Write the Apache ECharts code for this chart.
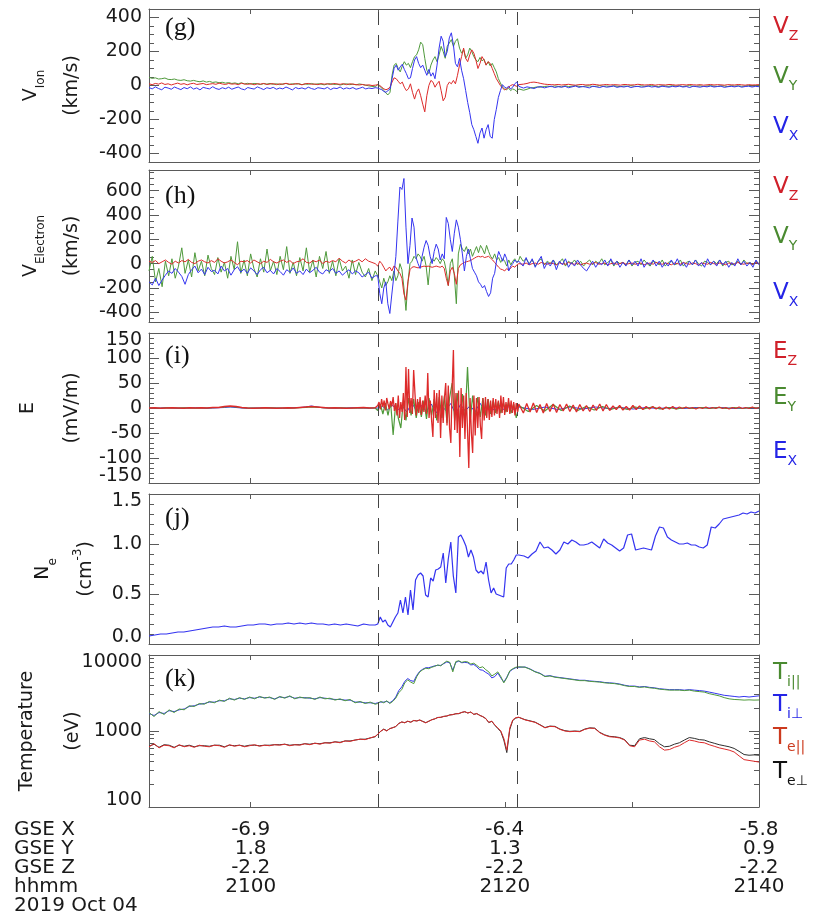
<!DOCTYPE html>
<html>
<head>
<meta charset="utf-8">
<script src="https://cdn.jsdelivr.net/npm/echarts@6/dist/echarts.min.js"></script>
<style>
html,body{margin:0;padding:0;background:#fff}
#chart{width:821px;height:918px}
</style>
</head>
<body>
<div id="chart"></div>
<script>
// Time axis: minutes after 21:00 UT, 2019 Oct 04
const T_START = -8, T_END = 40;
const eventTimes = [10.0, 20.95];
const timeTicks = [0, 10, 20, 30];
const timeLabelVals = [0, 20, 40];
const hhmmLabels = ['2100', '2120', '2140'];
const gseXLabels = ['-6.9', '-6.4', '-5.8'];
const gseYLabels = ['1.8', '1.3', '0.9'];
const gseZLabels = ['-2.2', '-2.2', '-2.2'];

// Each quantity is stored in three stretches: before, across and after the crossing
const SPAN_PRE = [-8, 9.8], SPAN_ACT = [10, 21.1], SPAN_POST = [21.2, 40];

// (g) ion bulk velocity, km/s
const ionVxPre = [-12,-20,-8,-18,-25,-10,-15,-22,-9,-17,-24,-12,-19,-8,-21,-14,-26,-11,-16,-20,-7,-18,-23,-13,-19,-10,-22,-15,-9,-20,-25,-12,-17,-21,-8,-16,-24,-13,-18,-11,-22,-15,-20,-9,-17,-26,-12,-19,-14,-21,-10,-18,-23,-13,-16,-20,-11,-24,-15,-18,-9,-21,-14,-19,-12,-22,-17,-10,-20,-15,-18,-13];
const ionVxAct = [-15,-20,-25,-35,-40,-30,-20,40,100,120,90,110,125,95,70,40,45,100,150,170,130,105,120,90,60,95,55,75,40,120,220,290,260,170,200,280,310,240,130,110,160,90,40,-30,-100,-160,-230,-260,-300,-340,-280,-250,-310,-260,-230,-300,-310,-200,-140,-70,-30,5,-10,-15,-5,-20,-10,10,20,-5];
const ionVxPost = [-5,-15,-8,-12,-18,-10,-6,-14,-9,-4,-12,-7,-10,-5,-13,-8,-3,-11,-6,-9,-14,-4,-8,-12,-5,-10,-7,-3,-11,-6,-9,-4,-12,-7,-5,-10,-8,-3,-9,-6,-11,-4,-7,-10,-5,-8,-3,-9,-6,-12,-4,-7,-10,-5,-8,-3,-9,-6,-4,-11,-7,-5,-8,-3,-10,-6,-4,-9,-5,-7];
const ionVyPre = [48,42,45,38,40,44,36,35,38,32,30,34,28,26,30,25,22,27,20,24,18,21,16,19,14,17,12,15,10,16,9,13,8,12,10,6,11,8,12,7,10,5,9,12,6,10,8,11,5,9,7,12,6,10,8,4,9,11,6,8,3,7,10,5,8,4,9,6,2,-2,-5,-8];
const ionVyAct = [5,-5,-15,-30,-45,-55,-40,60,120,130,100,80,115,140,120,130,105,140,170,180,210,255,240,160,90,70,120,150,170,140,180,230,200,160,230,250,270,230,260,275,220,190,210,160,180,220,200,170,150,140,165,145,155,120,140,115,130,105,80,40,15,-10,-20,-25,-15,-30,-20,-25,-35,-20];
const ionVyPost = [-20,-28,-22,-15,-12,-8,-10,-6,-4,-7,-3,-5,-8,-2,-6,-4,-1,-5,-7,-3,-2,-6,-4,-1,-5,-3,-6,-2,-4,-7,-3,-5,-1,-4,-6,-2,-5,-3,-1,-4,-6,-2,-3,-5,-1,-4,-2,-6,-3,-1,-5,-4,-2,-6,-3,-1,-4,-5,-2,-3,-6,-1,-4,-2,-5,-3,-1,-4,-2,-3];
const ionVzPre = [10,5,12,8,15,6,10,3,9,14,7,11,4,10,13,6,9,12,5,8,11,7,14,9,6,12,8,10,5,13,9,7,11,4,10,8,12,6,9,11,5,10,7,13,8,6,11,9,4,10,12,7,9,5,11,8,10,6,12,9,7,11,5,10,8,5,3,6,2,4,0,2];
const ionVzAct = [5,0,-10,-20,-25,-20,-10,20,45,40,25,10,20,-10,-30,-20,10,-40,-80,-40,-20,-60,-110,-155,-60,0,30,20,-10,10,25,-30,-90,-70,0,20,10,30,10,60,120,170,220,160,140,180,210,190,150,100,130,170,150,120,140,130,100,70,40,20,0,-15,-25,-20,-10,0,5,0,-5,5];
const ionVzPost = [5,8,12,18,20,17,12,8,6,5,4,6,3,5,7,4,2,5,6,3,4,7,5,2,4,6,3,5,4,2,6,5,3,4,7,5,3,4,6,2,5,4,3,6,5,2,4,5,3,6,4,3,5,2,4,6,3,5,4,2,5,4,3,6,4,2,5,3,4,5];

// (h) electron bulk velocity, km/s
const eleVxPre = [-150,-175,-120,-180,-135,-95,-60,-80,-40,-70,-105,-170,-90,-50,-20,-75,-45,-90,-30,-65,-55,-85,-20,-60,-40,-95,-50,-25,-70,-45,-80,-35,-60,-90,-50,-30,-75,-55,-85,-40,-65,-95,-50,-70,-35,-80,-60,-90,-45,-75,-55,-30,-70,-85,-50,-65,-40,-80,-60,-95,-70,-50,-85,-60,-75,-110,-90,-70,-120,-100];
const eleVxAct = [-100,-245,-330,-200,-150,-330,-410,-250,-100,60,350,630,610,700,300,0,150,375,300,50,0,-40,60,135,190,150,60,0,100,160,120,30,80,40,380,330,200,100,250,360,300,200,80,-60,60,120,40,-40,-70,-100,-150,-170,-200,-180,-230,-270,-240,-120,-80,30,100,60,20,80,40,-60,-20,0,30,10,20];
const eleVxPost = [30,-20,50,-10,40,-30,20,60,-40,10,-20,30,-50,20,-10,40,-30,10,-20,30,-10,-40,-60,-20,20,-30,10,-10,30,-20,40,-10,20,-30,10,-20,30,-10,20,-20,40,-30,10,-10,30,-20,20,-30,10,-20,30,-10,40,-20,10,-30,20,-10,30,-20,10,-30,40,-10,20,-20,30,-10,20,-30,10,-20,40,-10,20,-20,10,-30,30,-10];
const eleVyPre = [-60,60,-150,-40,-190,20,-100,40,-120,-20,130,-80,30,-110,90,-60,20,-100,70,-40,-90,50,-70,10,-120,60,-50,180,-80,30,-100,80,-40,-110,40,-70,120,-60,20,-90,60,-50,140,-80,10,-100,50,-60,130,-70,30,-110,60,-40,100,-80,20,-100,40,-60,-20,-120,30,-90,10,-70,-110,-40,-140,-60];
const eleVyAct = [-100,-150,-200,-120,-180,-150,-100,-140,-60,-140,-100,0,-50,-200,-385,-150,0,20,60,40,80,60,20,60,-20,-175,0,40,20,50,30,0,40,20,-60,-180,0,40,-100,-330,80,160,120,100,140,80,120,60,100,140,90,150,120,80,150,100,60,40,80,30,50,10,40,20,-20,30,-10,20,40,10,30];
const eleVyPost = [60,20,40,0,30,-20,20,40,-10,20,0,30,-10,10,40,-20,20,0,30,-10,20,-20,10,30,-10,20,0,40,-10,10,30,-20,20,0,10,-10,30,-20,10,20,-10,30,0,-20,20,10,-10,30,-20,10,20,-10,0,30,-20,10,20,-10,30,0,-20,20,10,-10,20,0,30,-20,10,20,-10,0,20,-10,30,0,10,-10,20,0];
const eleVzPre = [20,10,25,0,15,30,10,-5,20,5,25,15,35,10,0,20,30,15,5,25,10,40,20,5,15,30,10,-10,20,15,25,5,30,15,0,20,10,35,15,5,20,30,10,25,0,15,20,40,10,5,25,15,30,0,20,10,25,15,45,20,5,30,10,20,35,15,40,20,10,0];
const eleVzAct = [-20,20,0,-30,-60,-40,-30,-60,-20,-30,-60,-80,-120,-250,-300,-150,-50,-30,-25,-30,-35,-30,-25,-20,-25,-20,-25,-30,-25,-20,-25,-30,-20,-40,-120,-180,-60,-30,-80,-170,-40,-10,0,10,15,20,25,35,45,55,60,55,60,50,55,60,45,30,10,-10,-30,-45,-50,-60,-40,-55,-35,-20,-30,-10,0];
const eleVzPost = [0,-5,5,-10,0,5,-5,10,0,-5,5,0,-10,5,0,-5,10,0,-5,5,-10,0,5,-5,0,10,-5,0,5,-10,0,5,-5,0,10,-5,0,5,-5,0,5,-10,0,5,-5,10,0,-5,5,0,-10,5,0,-5,10,0,-5,5,0,-10,5,0,-5,10,0,-5,5,0,-10,5,0,-5,10,0,-5,5,0,-5,10,0];

// (i) electric field, mV/m
const exPre = [0,-0.5,0,0.5,0,-0.5,0,0,0.5,0,-0.5,0,0.5,1,2,1,0,-0.5,0,0,0.5,0,0,-0.5,0,0.5,1,2,4,2,0.5,0,-0.5,0,0,0.5,0,0,-0.5,0];
const exAct = [0,3,-4,6,-5,4,-8,10,-6,5,-7,8,-10,6,-5,9,-12,7,-6,5,-8,10,-6,4,-5,6,-4,3,-3,2];
const exPost = [3,-3,2,-3,2,-2,2,-1,1,-2,1,-1,1,-1,1,0,1,-1,0,0];
const eyPre = [0,0,-0.5,0.5,0,0,0.5,0,-0.5,0,0,0.5,1,2,3,2,0.5,0,0,-0.5,0,0.5,0,0,-0.5,0,0.5,1,2,1.5,0.5,0,0,0.5,0,-0.5,0,0.5,0,0];
const eyAct = [-5,8,-12,10,-15,12,-54,10,-20,-40,15,-25,20,-15,18,-20,12,-18,15,-22,20,-15,18,-25,22,-20,25,-30,20,50,-25,30,-35,28,-30,82,-28,25,-20,22,-18,20,-15,18,-12,15,-10,12,-10,10,-8,12,-10,8,-20,5];
const eyPost = [6,-7,5,-6,7,-5,4,-5,3,-4,3,-3,2,-3,2,-2,2,-2,1,-2,1,-1,1,-1,1,-1,1,-1,1,0];
const ezPre = [0,0.5,-0.5,0,0.5,0,-0.5,0.5,0,0.5,0,1,1,3,4,3,1,0,-0.5,0,0.5,0,-0.5,0,0.5,0,1,2,3,2,1,0,0.5,0,-0.5,0,0.5,1,0,0.5];
const ezAct = [5,12,-3,18,2,15,-5,20,8,-2,14,3,22,-6,10,-15,25,-20,12,-8,30,-24,82,-18,78,-10,20,-12,76,30,-15,18,-10,22,-14,15,-8,25,-12,70,-20,15,-25,-58,36,-20,30,-30,36,-60,25,-30,20,50,-35,45,-40,-70,40,116,-44,30,-50,35,-98,40,-40,25,-62,30,-45,-120,20,-50,-90,25,-55,20,-40,22,-35,-62,20,-25,22,-20,18,-24,15,-18,20,-15,18,-12,15,-20,25,-10,22,-14,12,-8,20,-12,15,-10,12,-15,10,-8,8];
const ezPost = [8,-10,9,-8,10,-9,7,-10,9,-7,8,-9,7,-6,8,-7,6,-8,7,-6,5,-7,6,-5,8,-6,7,-5,4,-3,5,-4,3,-4,5,-3,4,-3,3,-2,3,-2,2,-3,2,-2,3,-2,2,-1,2,-1,1,-2,1,-1,2,-1,1,-1,2,-1,1,-2,1,-1,2,-1,1,-1,2,-1,1];

// (j) electron density, cm^-3
const nePre = [0.08,0.09,0.10,0.10,0.11,0.12,0.12,0.13,0.14,0.15,0.16,0.17,0.17,0.18,0.17,0.17,0.18,0.19,0.19,0.20,0.20,0.19,0.20,0.20,0.21,0.20,0.21,0.20,0.21,0.20,0.20,0.19,0.20,0.19,0.20,0.19,0.18,0.20,0.19,0.19];
const neAct = [0.20,0.27,0.22,0.24,0.19,0.17,0.22,0.27,0.31,0.44,0.31,0.47,0.29,0.54,0.34,0.64,0.69,0.71,0.68,0.49,0.47,0.66,0.63,0.74,0.75,0.77,0.91,0.61,0.85,1.02,0.68,0.51,1.07,1.09,1.04,0.98,0.87,0.94,0.87,0.74,0.71,0.73,0.70,0.82,0.64,0.51,0.56,0.50,0.49,0.48,0.47,0.76,0.80,0.80,0.84,0.89,0.89];
const nePost = [0.89,0.88,0.86,0.90,0.93,1.02,0.96,0.97,0.94,0.90,0.94,1.02,1.00,1.04,1.02,0.99,0.99,1.00,1.02,0.99,0.96,1.05,1.01,0.99,0.96,0.93,0.96,1.09,1.10,0.94,0.95,0.96,0.95,0.94,1.08,1.17,1.16,1.07,1.04,1.02,1.00,1.00,1.01,0.99,0.99,0.97,0.96,0.99,1.17,1.16,1.20,1.25,1.26,1.27,1.28,1.29,1.31,1.30,1.32,1.31,1.33];

// (k) ion and electron temperatures, eV
const tiParPre = [1750,1550,1800,1650,1900,1750,1950,1900,2150,2100,2300,2250,2450,2350,2550,2450,2700,2550,2750,2600,2800,2650,2850,2700,2800,2600,2850,2700,2900,2650,2800,2700,2750,2600,2800,2650,2700,2550,2650,2500,2600,2350,2450,2300,2400,2250];
const tiParAct = [2300,2450,2350,2500,2300,2450,2700,3200,3500,4300,4700,4400,4200,5200,6000,6400,6700,6600,6900,7100,7400,7200,7800,8300,8000,6000,8200,8400,8000,8200,8100,7600,7800,7300,6800,7000,6400,6000,5300,5600,6000,5200,4300,5000,6200,6600,6900,7000];
const tiParPost = [7000,6900,6500,6000,5700,5200,5300,5100,5000,4900,4800,4700,4600,4600,4500,4450,4400,4300,4250,4200,4100,3950,3850,3850,3750,3800,3700,3650,3550,3500,3450,3450,3450,3400,3450,3350,3300,3250,3100,3000,2900,2750,2650,2600,2580,2550,2570,2550,2560];
const tiPerpPre = [1700,1600,1750,1700,1850,1800,1900,1950,2100,2150,2250,2300,2400,2400,2500,2500,2650,2600,2700,2650,2750,2700,2800,2750,2750,2650,2800,2750,2850,2700,2750,2750,2700,2650,2750,2700,2650,2600,2600,2550,2550,2400,2400,2350,2350,2300];
const tiPerpAct = [2350,2400,2400,2450,2350,2500,2800,3400,3800,4500,4900,4600,4500,5400,6100,6500,6800,6800,7000,7200,7300,7300,7700,8100,7900,6300,8000,8300,7900,8000,7900,7400,7500,7000,6400,6300,5900,5600,5000,5200,5800,5000,4400,5100,6100,6500,6800,6900];
const tiPerpPost = [7050,6950,6550,6050,5750,5250,5350,5150,5050,4950,4850,4750,4650,4650,4550,4500,4450,4350,4300,4250,4150,4000,3900,3900,3800,3850,3750,3700,3600,3550,3500,3500,3500,3450,3500,3450,3400,3350,3250,3150,3050,2950,2900,2850,2800,2850,2800,2850,2900];
const teParPre = [620,680,600,650,640,600,660,620,640,610,650,630,620,650,640,610,660,630,650,620,640,660,630,650,640,660,650,670,640,660,650,680,660,690,670,700,690,720,700,740,730,760,780,770,810,850];
const teParAct = [900,1000,1050,1000,1080,1100,1150,1250,1320,1280,1350,1300,1380,1350,1400,1330,1280,1350,1400,1450,1500,1520,1550,1580,1620,1650,1680,1700,1750,1800,1720,1780,1650,1700,1600,1550,1450,1300,1350,1200,1100,1000,800,560,1100,1400,1500,1520];
const teParPost = [1520,1400,1350,1300,1200,1100,1150,1140,1050,1000,980,990,980,1050,1090,1080,950,880,840,830,810,760,640,620,760,780,740,720,620,560,570,610,640,700,760,740,710,700,660,630,600,580,560,530,470,420,410,400,390];
const tePerpPre = [630,670,610,660,650,610,650,630,650,620,640,640,630,650,650,620,650,640,650,630,650,650,640,650,650,660,660,670,650,660,660,680,670,690,680,700,700,720,710,740,740,760,780,780,810,840];
const tePerpAct = [910,990,1060,1010,1070,1110,1140,1260,1310,1290,1340,1310,1370,1360,1390,1340,1290,1340,1410,1440,1510,1510,1560,1570,1630,1640,1690,1690,1760,1790,1730,1770,1660,1690,1610,1540,1460,1290,1340,1190,1080,980,760,520,1050,1380,1480,1510];
const tePerpPost = [1530,1410,1360,1310,1210,1110,1160,1150,1060,1010,990,1000,990,1060,1100,1090,960,890,850,840,820,770,650,640,790,820,790,770,680,620,630,670,700,760,820,800,770,760,720,690,660,640,620,590,540,490,480,485,480];

// ---------- helpers ----------
function stretch(span, vals) {
  const n = vals.length;
  return vals.map((v, i) => [span[0] + (span[1] - span[0]) * i / (n - 1), v]);
}
function track(pre, act, post) {
  return stretch(SPAN_PRE, pre).concat(stretch(SPAN_ACT, act), stretch(SPAN_POST, post));
}
function tickGrid(min, max, step, skip) {
  const out = [];
  for (let k = Math.ceil(min / step - 1e-9); k * step <= max + 1e-9; k++) {
    const v = Math.round(k * step * 1000) / 1000;
    if (!skip.some(s => Math.abs(s - v) < 1e-9)) out.push(v);
  }
  return out;
}

// ---------- layout ----------
const LEFT = 149, PLOT_W = 610;
const PANELS = [
  { top: 9, height: 153 },
  { top: 170, height: 152 },
  { top: 333, height: 150 },
  { top: 494, height: 150 },
  { top: 655, height: 152 }
];
const BOX = '#5a5a5a';
const INK = '#1a1a1a';
const FONT = 'DejaVu Sans';
const RED = '#dd2a2a', GREEN = '#4f9a3c', BLUE = '#3434f0', DARK = '#2e2e2e';
const RED_L = '#d0202a', GREEN_L = '#4a8a30', BLUE_L = '#2424e6', ORANGE_L = '#cc3a1e';

const gMajor = [-400, -200, 0, 200, 400];
const hMajor = [-400, -200, 0, 200, 400, 600];
const iMajor = [-150, -100, -50, 0, 50, 100, 150];
const jMajor = [0, 0.5, 1.0, 1.5];
const kMajor = [100, 1000, 10000];
const kMinor = [200, 300, 400, 500, 600, 700, 800, 900, 2000, 3000, 4000, 5000, 6000, 7000, 8000, 9000];

// labels: main set on the framed axis; inner set (if any) on a second axis so crowded labels all stay visible
const yCfg = [
  { type: 'value', min: -450, max: 450, major: gMajor, labels: gMajor, inner: [], minor: tickGrid(-450, 450, 50, gMajor), fmt: v => String(v) },
  { type: 'value', min: -480, max: 770, major: hMajor, labels: hMajor, inner: [], minor: tickGrid(-480, 770, 50, hMajor), fmt: v => String(v) },
  { type: 'value', min: -150, max: 150, major: iMajor, labels: [-150, -50, 0, 50, 150], inner: [-100, 100], minor: tickGrid(-150, 150, 10, iMajor), fmt: v => String(v), edge: true },
  { type: 'value', min: 0, max: 1.5, major: jMajor, labels: jMajor, inner: [], minor: tickGrid(0, 1.5, 0.1, jMajor), fmt: v => v.toFixed(1), edge: true },
  { type: 'log', min: 100, max: 10000, major: kMajor, labels: kMajor, inner: [], minor: kMinor, fmt: v => String(v), edge: true }
];

const grids = [], xAxes = [], yAxes = [];
PANELS.forEach((p, gi) => {
  grids.push({ left: LEFT, width: PLOT_W, top: p.top, height: p.height, containLabel: false });
  const xBase = {
    gridIndex: gi, type: 'value', min: T_START, max: T_END,
    splitLine: { show: false },
    axisLine: { show: true, onZero: false, lineStyle: { color: BOX, width: 1 } },
    axisTick: { show: true, inside: true, length: 5, customValues: timeTicks, lineStyle: { color: BOX } }
  };
  const isLast = gi === PANELS.length - 1;
  xAxes.push(Object.assign({}, xBase, {
    position: 'bottom',
    axisLabel: isLast ? {
      show: true, customValues: timeLabelVals, margin: 13, interval: 0,
      fontFamily: FONT, fontSize: 20, lineHeight: 19, color: INK,
      showMinLabel: true, showMaxLabel: true,
      formatter: v => {
        const i = timeLabelVals.indexOf(v);
        return i < 0 ? '' : [gseXLabels[i], gseYLabels[i], gseZLabels[i], hhmmLabels[i]].join('\n');
      }
    } : { show: false }
  }));
  xAxes.push(Object.assign({}, xBase, { position: 'top', axisLabel: { show: false } }));

  const c = yCfg[gi];
  const yBase = {
    gridIndex: gi, type: c.type, min: c.min, max: c.max,
    splitLine: { show: false },
    axisLine: { show: true, onZero: false, lineStyle: { color: BOX, width: 1 } }
  };
  if (c.type === 'log') yBase.logBase = 10;
  const labelStyle = {
    show: true, formatter: c.fmt, margin: 7, interval: 0, hideOverlap: false,
    fontFamily: FONT, fontSize: 19, lineHeight: 14, color: INK, showMinLabel: true, showMaxLabel: true
  };
  const lbl = Object.assign({}, labelStyle, { customValues: c.labels });
  if (c.edge) { lbl.verticalAlignMaxLabel = 'top'; lbl.verticalAlignMinLabel = 'bottom'; }
  const innerLbl = c.inner.length ? Object.assign({}, labelStyle, { customValues: c.inner }) : { show: false };
  yAxes.push(Object.assign({}, yBase, {
    position: 'left',
    axisTick: { show: true, inside: true, length: 10, customValues: c.major, lineStyle: { color: BOX } },
    axisLabel: lbl
  }));
  yAxes.push(Object.assign({}, yBase, {
    position: 'right',
    axisTick: { show: true, inside: true, length: 10, customValues: c.major, lineStyle: { color: BOX } },
    axisLabel: { show: false }
  }));
  yAxes.push(Object.assign({}, yBase, {
    position: 'left', axisLine: { show: false, onZero: false },
    axisTick: { show: true, inside: true, length: 5, customValues: c.minor, lineStyle: { color: BOX } },
    axisLabel: innerLbl
  }));
  yAxes.push(Object.assign({}, yBase, {
    position: 'right', axisLine: { show: false, onZero: false },
    axisTick: { show: true, inside: true, length: 5, customValues: c.minor, lineStyle: { color: BOX } },
    axisLabel: { show: false }
  }));
});

// full-height layer carrying the two event markers
grids.push({ left: LEFT, width: PLOT_W, top: PANELS[0].top, height: PANELS[4].top + PANELS[4].height - PANELS[0].top });
xAxes.push({ gridIndex: 5, type: 'value', min: T_START, max: T_END, show: false });
yAxes.push({ gridIndex: 5, type: 'value', min: 0, max: 1, show: false });

function line(gi, data, color, z, width) {
  return {
    type: 'line', xAxisIndex: gi * 2, yAxisIndex: gi * 4, data,
    showSymbol: false, symbol: 'none', silent: true, animation: false, z: z,
    lineStyle: { color, width: width || 1 }, itemStyle: { color }
  };
}

const series = [
  line(0, track(ionVyPre, ionVyAct, ionVyPost), GREEN, 3),
  line(0, track(ionVzPre, ionVzAct, ionVzPost), RED, 4),
  line(0, track(ionVxPre, ionVxAct, ionVxPost), BLUE, 5),
  line(1, track(eleVyPre, eleVyAct, eleVyPost), GREEN, 3),
  line(1, track(eleVzPre, eleVzAct, eleVzPost), RED, 4),
  line(1, track(eleVxPre, eleVxAct, eleVxPost), BLUE, 5),
  line(2, track(exPre, exAct, exPost), BLUE, 3),
  line(2, track(eyPre, eyAct, eyPost), GREEN, 4, 1.2),
  line(2, track(ezPre, ezAct, ezPost), RED, 5, 1.3),
  line(3, track(nePre, neAct, nePost), BLUE, 3, 1.2),
  line(4, track(tiPerpPre, tiPerpAct, tiPerpPost), BLUE, 3),
  line(4, track(tiParPre, tiParAct, tiParPost), GREEN, 4),
  line(4, track(tePerpPre, tePerpAct, tePerpPost), DARK, 5),
  line(4, track(teParPre, teParAct, teParPost), RED, 6),
  {
    type: 'line', xAxisIndex: 10, yAxisIndex: 20, data: [], symbol: 'none', silent: true, z: 1, animation: false,
    markLine: {
      silent: true, symbol: ['none', 'none'], label: { show: false }, animation: false,
      lineStyle: { color: '#444', width: 1, type: [13, 10] },
      data: eventTimes.map(t => ({ xAxis: t }))
    }
  }
];

// ---------- texts around the panels ----------
const graphic = [];
const titleRich = {
  m: { fontFamily: FONT, fontSize: 19, fill: INK, padding: [0, 0, 6, 0], verticalAlign: 'bottom' },
  s: { fontFamily: FONT, fontSize: 12, fill: INK, verticalAlign: 'bottom' },
  u: { fontFamily: FONT, fontSize: 19, fill: INK },
  q: { fontFamily: FONT, fontSize: 19, fill: INK, padding: [5, 0, 0, 0], verticalAlign: 'bottom' },
  p: { fontFamily: FONT, fontSize: 12, fill: INK, verticalAlign: 'top' }
};
const titles = [
  [[34, '{m|V}{s|Ion}'], [72, '{u|(km/s)}']],
  [[34, '{m|V}{s|Electron}'], [72, '{u|(km/s)}']],
  [[28, '{u|E}'], [72, '{u|(mV/m)}']],
  [[46, '{m|N}{s|e}'], [84, '{q|(cm}{p|-3}{q|)}']],
  [[27, '{u|Temperature}'], [73, '{u|(eV)}']]
];
titles.forEach((pair, gi) => {
  const yc = PANELS[gi].top + PANELS[gi].height / 2;
  pair.forEach(([x, txt]) => {
    graphic.push({
      type: 'text', x: x, y: yc, rotation: Math.PI / 2, silent: true,
      style: { text: txt, rich: titleRich, align: 'center', verticalAlign: 'middle' }
    });
  });
});

const panelTags = ['(g)', '(h)', '(i)', '(j)', '(k)'];
const tagOffsets = [19, 26, 23, 24, 24];
panelTags.forEach((t, gi) => {
  graphic.push({
    type: 'text', x: 165, y: PANELS[gi].top + tagOffsets[gi], silent: true,
    style: { text: t, fontFamily: 'Liberation Serif', fontSize: 26, fill: '#111', align: 'left', verticalAlign: 'middle' }
  });
});

const keyRich = {
  m: { fontFamily: FONT, fontSize: 23, padding: [0, 0, 5, 0], verticalAlign: 'bottom' },
  s: { fontFamily: FONT, fontSize: 14, verticalAlign: 'bottom' }
};
const keys = [
  [[27, 'V', 'Z', RED_L], [77, 'V', 'Y', GREEN_L], [127, 'V', 'X', BLUE_L]],
  [[187, 'V', 'Z', RED_L], [237, 'V', 'Y', GREEN_L], [293, 'V', 'X', BLUE_L]],
  [[352, 'E', 'Z', RED_L], [398, 'E', 'Y', GREEN_L], [452, 'E', 'X', BLUE_L]],
  [],
  [[673, 'T', 'i||', GREEN_L], [705, 'T', 'i\u22a5', BLUE_L], [738, 'T', 'e||', ORANGE_L], [772, 'T', 'e\u22a5', '#111']]
];
keys.forEach(rows => rows.forEach(([y, main, sub, col]) => {
  const rich = {
    m: Object.assign({}, keyRich.m, { fill: col }),
    s: Object.assign({}, keyRich.s, { fill: col })
  };
  graphic.push({
    type: 'text', x: 773, y: y + 2.5, silent: true,
    style: { text: '{m|' + main + '}{s|' + sub + '}', rich, align: 'left', verticalAlign: 'middle' }
  });
}));

graphic.push({
  type: 'text', x: 14, y: 820, silent: true,
  style: {
    text: 'GSE X\nGSE Y\nGSE Z\nhhmm\n2019 Oct 04',
    fontFamily: FONT, fontSize: 20, lineHeight: 19, fill: INK, align: 'left', verticalAlign: 'top'
  }
});

const chart = echarts.init(document.getElementById('chart'));
chart.setOption({
  animation: false,
  backgroundColor: '#fff',
  textStyle: { fontFamily: FONT },
  grid: grids,
  xAxis: xAxes,
  yAxis: yAxes,
  series: series,
  graphic: graphic
});
</script>
</body>
</html>
